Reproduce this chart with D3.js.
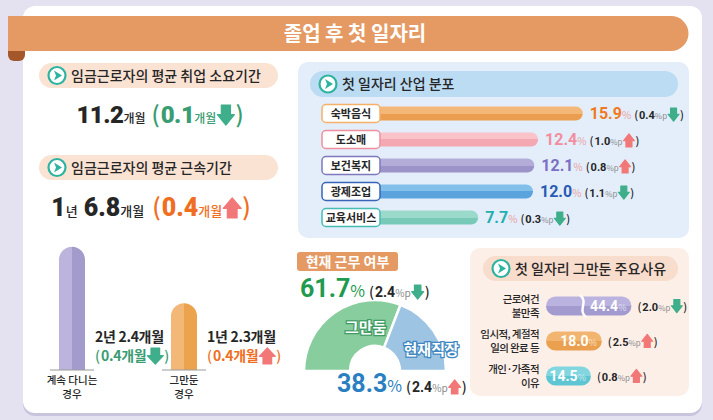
<!DOCTYPE html>
<html>
<head>
<meta charset="utf-8">
<script src="https://cdn.jsdelivr.net/npm/d3@7"></script>
<style>
  body { margin: 0; background: #e4e1f1; }
  svg { display: block; font-family: "Noto Sans CJK KR", "Noto Sans", sans-serif; }
</style>
</head>
<body>
<svg id="chart" width="713" height="420"></svg>
<script>
// ---- data ----
var title = '졸업 후 첫 일자리';

var searchMonths = 11.2;
var searchChange = 0.1;
var tenureAvgYears = 1;
var tenureAvgMonths = 6.8;
var tenureAvgChange = 0.4;

var industries = ['숙박음식', '도소매', '보건복지', '광제조업', '교육서비스'];
var industryShares = [15.9, 12.4, 12.1, 12.0, 7.7];
var industryChanges = [0.4, 1.0, 0.8, 1.1, 0.3];
var industryDirs = ['down', 'up', 'up', 'down', 'down'];

var tenureGroups = [['계속 다니는', '경우'], ['그만둔', '경우']];
var tenureMonths = [26.4, 14.3];
var tenureLabels = ['2년 2.4개월', '1년 2.3개월'];
var tenureChanges = [0.4, 0.4];
var tenureDirs = ['down', 'up'];

var workStatus = ['그만둠', '현재직장'];
var workShares = [61.7, 38.3];
var workChanges = [2.4, 2.4];
var workDirs = ['down', 'up'];

var reasons = [['근로여건', '불만족'], ['임시적, 계절적', '일의 완료 등'], ['개인·가족적', '이유']];
var reasonShares = [44.4, 18.0, 14.5];
var reasonChanges = [2.0, 2.5, 0.8];
var reasonDirs = ['down', 'up', 'up'];

// ---- colours ----
var GREEN = '#3a9c72', ORANGE = '#f06e22', DOWN = '#3fae8a', UP = '#f27878', INK = '#262626';
var NUM = 'Roboto, "Noto Sans CJK KR", sans-serif';

var svg = d3.select('#chart');
var defs = svg.append('defs');
var f1 = d3.format('.1f');

function twoTone(id, light, dark, vertical) {
    var lg = defs.append('linearGradient').attr('id', id);
    if (vertical) lg.attr('x1', 0).attr('y1', 0).attr('x2', 0).attr('y2', 1);
    else lg.attr('x1', 0).attr('y1', 0).attr('x2', 1).attr('y2', 0);
    lg.append('stop').attr('offset', '0%').attr('stop-color', light);
    lg.append('stop').attr('offset', '50%').attr('stop-color', light);
    lg.append('stop').attr('offset', '50%').attr('stop-color', dark);
    lg.append('stop').attr('offset', '100%').attr('stop-color', dark);
    return 'url(#' + id + ')';
}

function arrow(g, cx, dir, w, h, top, color) {
    var s = w * 0.27, bot = top + h, p;
    if (dir === 'down') {
        var m = top + h * 0.48;
        p = [[-s, top], [s, top], [s, m], [w / 2, m], [0, bot], [-w / 2, m], [-s, m]];
    } else {
        var m2 = top + h * 0.52;
        p = [[-s, bot], [s, bot], [s, m2], [w / 2, m2], [0, top], [-w / 2, m2], [-s, m2]];
    }
    g.append('path')
        .attr('d', d3.line()(p.map(function(d) { return [d[0] + cx, d[1]]; })) + 'Z')
        .attr('fill', color || (dir === 'down' ? DOWN : UP))
        .attr('stroke', color || (dir === 'down' ? DOWN : UP))
        .attr('stroke-width', 1.2)
        .attr('stroke-linejoin', 'round');
}

// lays out text pieces one after another, returns width
function richLine(parent, x, y, segs, anchor) {
    var g = parent.append('g');
    var cx = 0;
    segs.forEach(function(s) {
        if (s.arrow) {
            arrow(g, cx + s.w / 2 + (s.pad || 1), s.arrow, s.w, s.h, s.top, s.color);
            cx += s.w + 2 * (s.pad || 1);
        } else {
            var t = g.append('text')
                .attr('x', cx).attr('y', 0)
                .attr('font-size', s.size)
                .attr('font-weight', s.weight || 700)
                .attr('font-family', s.font || null)
                .attr('letter-spacing', s.ls || null)
                .attr('fill', s.color || INK)
                .text(s.t);
            cx += t.node().getComputedTextLength() + (s.gap || 0);
        }
    });
    var x0 = anchor === 'middle' ? x - cx / 2 : anchor === 'end' ? x - cx : x;
    g.attr('transform', 'translate(' + x0 + ',' + y + ')');
    return cx;
}

function changeSegs(v, dir, big) {
    var sz = big ? 14 : 11;
    return [
        { t: '(', size: sz, weight: 500, gap: 1 },
        { t: f1(v), size: sz, font: NUM },
        { t: '%p', size: sz * 0.72, weight: 400, color: '#8a8a8a' },
        { arrow: dir, w: big ? 12 : 11, h: big ? 14 : 13, top: big ? -12 : -11, pad: 1 },
        { t: ')', size: sz, weight: 500 }
    ];
}

function icon(g, x, y) {
    g.append('circle').attr('cx', x).attr('cy', y).attr('r', 8.5)
        .attr('fill', '#fff').attr('stroke', '#2db4a0').attr('stroke-width', 2.2);
    g.append('path')
        .attr('d', 'M' + (x - 3) + ',' + (y - 5) + 'L' + (x + 5) + ',' + y + 'L' + (x - 3) + ',' + (y + 5) + 'L' + (x - 1) + ',' + y + 'Z')
        .attr('fill', '#2db4a0');
}

function pill(g, x, y, w, h, fill, label) {
    g.append('rect').attr('x', x).attr('y', y).attr('width', w).attr('height', h)
        .attr('rx', h / 2).attr('fill', fill);
    icon(g, x + 18, y + h / 2);
    g.append('text').attr('x', x + 32).attr('y', y + h / 2 + 5)
        .attr('font-size', 14).attr('font-weight', 500).attr('fill', INK).text(label);
}

// ---- card + banner ----
svg.append('rect').attr('x', 23).attr('y', 9).attr('width', 679).attr('height', 407)
    .attr('rx', 12).attr('fill', '#c9c4de');
svg.append('rect').attr('x', 23).attr('y', 6).attr('width', 679).attr('height', 407)
    .attr('rx', 12).attr('fill', '#fff');

svg.append('rect').attr('x', 8).attr('y', 42).attr('width', 17).attr('height', 19)
    .attr('rx', 6).attr('fill', '#a4572a');
svg.append('path')
    .attr('d', 'M8,16 H671 A17.5,17.5 0 0 1 671,51 H8 Z')
    .attr('fill', '#e49a62');
svg.append('text').attr('x', 355).attr('y', 41).attr('text-anchor', 'middle')
    .attr('font-size', 20).attr('font-weight', 700).attr('fill', '#fff').text(title);

// ---- left headline figures ----
var left = svg.append('g');
pill(left, 39, 63, 239, 25, '#fbe3d4', '임금근로자의 평균 취업 소요기간');
richLine(left, 160, 123, [
    { t: f1(searchMonths), size: 24, font: NUM, weight: 900, ls: -0.5 },
    { t: '개월', size: 12, weight: 500, gap: 6 },
    { t: '(', size: 23, weight: 500, color: GREEN, gap: 1 },
    { t: f1(searchChange), size: 24, font: NUM, weight: 900, color: GREEN, ls: -0.5 },
    { t: '개월', size: 12, weight: 500, color: GREEN },
    { arrow: 'down', w: 17, h: 20, top: -18, pad: 1 },
    { t: ')', size: 23, weight: 500, color: GREEN }
], 'middle');

pill(left, 39, 155, 239, 25, '#fbe3d4', '임금근로자의 평균 근속기간');
richLine(left, 151, 216, [
    { t: String(tenureAvgYears), size: 25, font: NUM, weight: 900 },
    { t: '년', size: 13, weight: 500, gap: 6 },
    { t: f1(tenureAvgMonths), size: 25, font: NUM, weight: 900 },
    { t: '개월', size: 13, weight: 500, gap: 8 },
    { t: '(', size: 24, weight: 500, color: ORANGE, gap: 1 },
    { t: f1(tenureAvgChange), size: 25, font: NUM, weight: 900, color: ORANGE },
    { t: '개월', size: 13, weight: 500, color: ORANGE },
    { arrow: 'up', w: 18, h: 20, top: -18, pad: 1 },
    { t: ')', size: 24, weight: 500, color: ORANGE }
], 'middle');

// ---- industry distribution ----
var ind = svg.append('g');
ind.append('rect').attr('x', 298).attr('y', 62).attr('width', 391).attr('height', 176)
    .attr('rx', 10).attr('fill', '#e3eefa');
pill(ind, 310, 71, 368, 26, '#bcdcf3', '첫 일자리 산업 분포');

var indLight = ['#f3b778', '#f9c3c9', '#b3acd8', '#82bfe9', '#9bd9ca'];
var indDark = ['#eb9e4f', '#f4a8b1', '#9c94c8', '#5aa3dd', '#79c9b8'];
var indEdge = ['#f5b06a', '#ef8f9e', '#7f78bd', '#3965b8', '#46bcb5'];
var indValue = ['#f07a1e', '#f38da0', '#7b70c4', '#2a5bb5', '#22b0ae'];

var xInd = d3.scaleLinear().domain([0, 16]).range([380, 584]);
var yInd = d3.scalePoint().domain(industries).range([113.5, 217.5]);

industries.forEach(function(name, i) {
    var cy = yInd(name);
    var fill = twoTone('ig' + i, indLight[i], indDark[i], true);
    ind.append('rect')
        .attr('x', xInd(0) - 10).attr('y', cy - 7)
        .attr('width', xInd(industryShares[i]) - xInd(0) + 10).attr('height', 14)
        .attr('rx', 7).attr('fill', fill);
    ind.append('rect')
        .attr('x', 322).attr('y', cy - 9).attr('width', 58).attr('height', 18)
        .attr('rx', 4).attr('fill', '#fff').attr('stroke', indEdge[i]).attr('stroke-width', 1.5);
    ind.append('text').attr('x', 351).attr('y', cy + 4.5).attr('text-anchor', 'middle')
        .attr('font-size', 11).attr('font-weight', 700).attr('fill', INK).text(name);
    richLine(ind, xInd(industryShares[i]) + 7, cy + 5.5, [
        { t: f1(industryShares[i]), size: 16, font: NUM, color: indValue[i] },
        { t: '%', size: 10, weight: 400, color: '#e8a2a2', gap: 3 }
    ].concat(changeSegs(industryChanges[i], industryDirs[i], false)));
});

// ---- tenure by group (vertical bars) ----
var ten = svg.append('g');
var yTen = d3.scaleLinear().domain([0, 27]).range([370, 244]);
var xTen = d3.scalePoint().domain([0, 1]).range([72, 184]);
var tenLight = ['#bcb4dc', '#f3b877'], tenDark = ['#a49bcd', '#eba34d'];

tenureMonths.forEach(function(v, i) {
    var cx = xTen(i), w = 26, r = w / 2, top = yTen(v), base = yTen(0);
    ten.append('path')
        .attr('d', 'M' + (cx - r) + ',' + base + 'V' + (top + r) + 'A' + r + ',' + r + ' 0 0 1 ' + (cx + r) + ',' + (top + r) + 'V' + base + 'Z')
        .attr('fill', twoTone('tg' + i, tenLight[i], tenDark[i], false));
    ten.append('line').attr('x1', cx - r - 9).attr('x2', cx + r + 9)
        .attr('y1', base).attr('y2', base).attr('stroke', '#9a9a9a').attr('stroke-width', 1);
    tenureGroups[i].forEach(function(line, k) {
        ten.append('text').attr('x', cx).attr('y', base + 14 + k * 13.5).attr('text-anchor', 'middle')
            .attr('font-size', 10.5).attr('font-weight', 500).attr('fill', INK).text(line);
    });
    var col = tenureDirs[i] === 'down' ? GREEN : ORANGE;
    var tx = cx + r + 10;
    ten.append('text').attr('x', tx).attr('y', 342)
        .attr('font-size', 14).attr('font-weight', 700).attr('letter-spacing', -0.3)
        .attr('fill', INK).text(tenureLabels[i]);
    richLine(ten, tx, 361, [
        { t: '(', size: 14, weight: 500, color: col, gap: 1 },
        { t: f1(tenureChanges[i]) + '개월', size: 14, weight: 700, color: col, ls: -0.3 },
        { arrow: tenureDirs[i], w: 16, h: 16, top: -13, pad: 1 },
        { t: ')', size: 14, weight: 500, color: col }
    ]);
});

// ---- current work status (half donut) ----
var work = svg.append('g');
work.append('rect').attr('x', 297).attr('y', 252).attr('width', 101).attr('height', 19)
    .attr('rx', 3).attr('fill', '#e49a62');
work.append('text').attr('x', 347.5).attr('y', 266.5).attr('text-anchor', 'middle')
    .attr('font-size', 14).attr('font-weight', 700).attr('fill', '#fff').text('현재 근무 여부');

var pie = d3.pie().sort(null).startAngle(-Math.PI / 2).endAngle(Math.PI / 2);
var arc = d3.arc().innerRadius(25).outerRadius(71);
var workFill = ['#88cd9d', '#9dc5e3'], workStroke = ['#3f9c64', '#3f86c0'];
var dg = work.append('g').attr('transform', 'translate(375,371)');
var arcs = pie(workShares);
dg.selectAll('path').data(arcs).enter().append('path')
    .attr('d', arc).attr('fill', function(d, i) { return workFill[i]; })
    .attr('stroke', '#fff').attr('stroke-width', 2.5);
var labelR = [44, 60];
dg.selectAll('text.lbl').data(arcs).enter().append('text')
    .attr('class', 'lbl')
    .attr('x', function(d, i) { var a = d.startAngle + (d.endAngle - d.startAngle) * 0.7; return Math.sin(a) * labelR[i]; })
    .attr('y', function(d, i) { var a = d.startAngle + (d.endAngle - d.startAngle) * 0.7; return -Math.cos(a) * labelR[i] + 5; })
    .attr('text-anchor', 'middle')
    .attr('font-size', 15).attr('font-weight', 700)
    .attr('fill', '#fff')
    .attr('stroke', function(d, i) { return workStroke[i]; }).attr('stroke-width', 2.5)
    .attr('paint-order', 'stroke')
    .text(function(d, i) { return workStatus[i]; });

var workCol = ['#1f9a4f', '#2a7fc1'];
var workPos = [[300, 297], [337, 392]];
workShares.forEach(function(v, i) {
    richLine(work, workPos[i][0], workPos[i][1], [
        { t: f1(v), size: 25, font: NUM, color: workCol[i] },
        { t: '%', size: 16, weight: 400, color: workCol[i], gap: 4 }
    ].concat(changeSegs(workChanges[i], workDirs[i], true)));
});

// ---- reasons for quitting ----
var rs = svg.append('g');
rs.append('rect').attr('x', 470).attr('y', 248).attr('width', 219).attr('height', 148)
    .attr('rx', 10).attr('fill', '#fcefe8');
pill(rs, 483, 256, 195, 25, '#f8dccc', '첫 일자리 그만둔 주요사유');

var xRs = d3.scaleLinear().domain([0, 20, 45]).range([546, 608, 632]);
var yRs = d3.scalePoint().domain([0, 1, 2]).range([306, 376]);
var rsLight = ['#bab3df', '#f2b570', '#82d6df'], rsDark = ['#a39bd0', '#eaa04e', '#5ec6d2'];

reasonShares.forEach(function(v, i) {
    var cy = yRs(i), x1 = xRs(v);
    rs.append('rect').attr('x', xRs(0)).attr('y', cy - 9.5)
        .attr('width', x1 - xRs(0)).attr('height', 19).attr('rx', 9.5)
        .attr('fill', twoTone('rg' + i, rsLight[i], rsDark[i], true));
    if (v > 20) {
        var bx = xRs(20) - 25;
        rs.append('path')
            .attr('d', 'M' + (bx - 3) + ',' + (cy - 11) + 'C' + (bx + 6) + ',' + (cy - 4) + ' ' + (bx - 6) + ',' + (cy + 4) + ' ' + (bx + 3) + ',' + (cy + 11))
            .attr('fill', 'none').attr('stroke', '#fff').attr('stroke-width', 2.5);
    }
    richLine(rs, x1 - 5, cy + 5, [
        { t: f1(v), size: 14, font: NUM, color: '#fff' },
        { t: '%', size: 9, weight: 400, color: 'rgba(255,255,255,0.7)' }
    ], 'end');
    richLine(rs, x1 + 6, cy + 4.5, changeSegs(reasonChanges[i], reasonDirs[i], false));
    reasons[i].forEach(function(line, k) {
        rs.append('text').attr('x', 539).attr('y', cy - 3 + k * 13.5).attr('text-anchor', 'end')
            .attr('font-size', 10.5).attr('font-weight', 500).attr('letter-spacing', -0.6)
            .attr('fill', INK).text(line);
    });
});
</script>
</body>
</html>
